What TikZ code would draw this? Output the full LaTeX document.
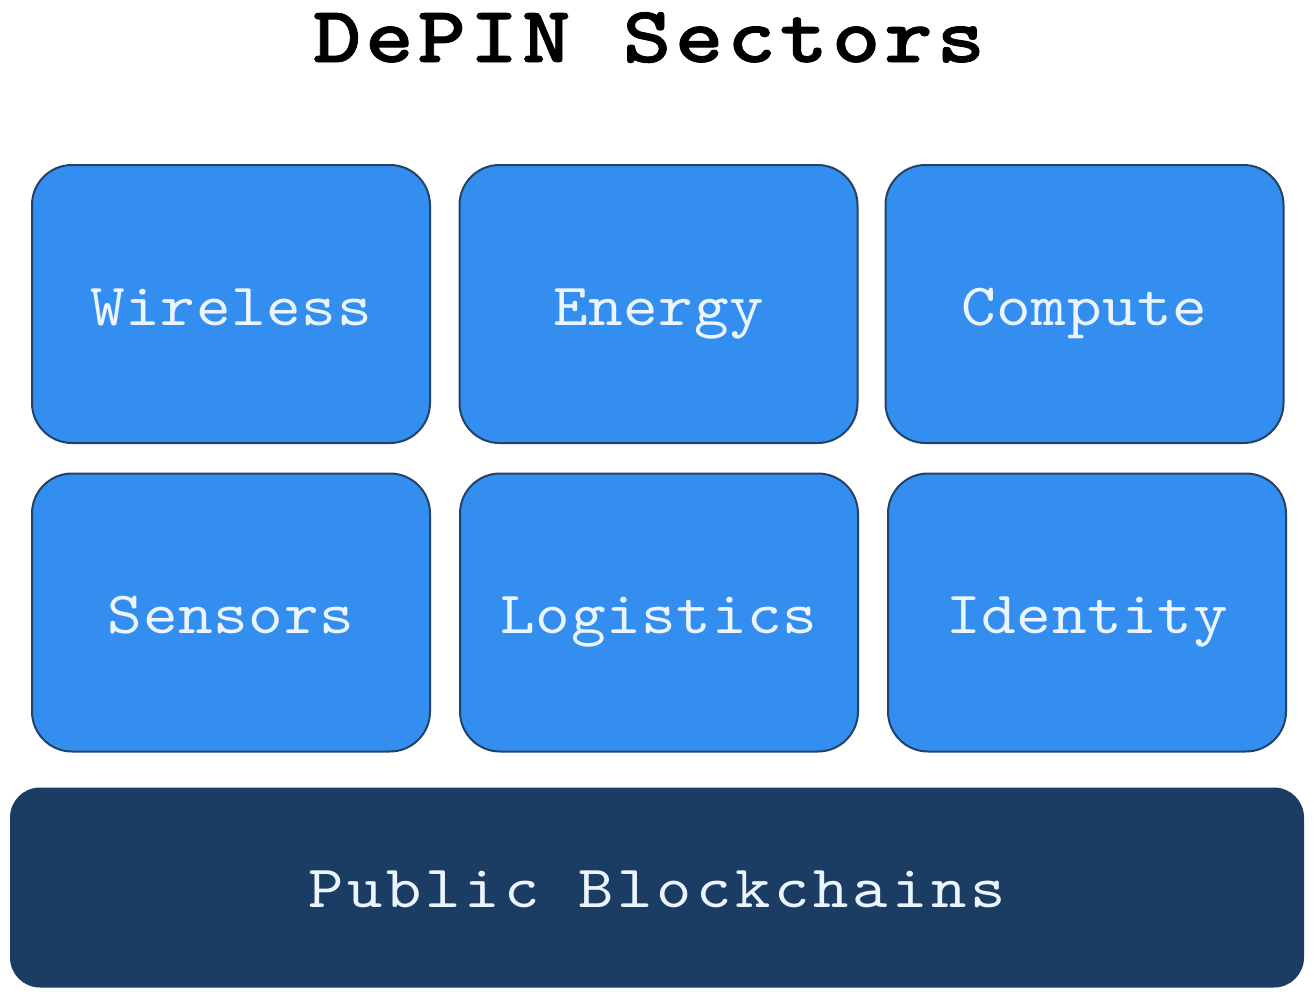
\documentclass[tikz,border=0pt]{standalone}
\usepackage{fontspec}
\newfontfamily\sectorfont{lmmono10-regular.otf}[FakeStretch=1.1,LetterSpace=1]
\newfontfamily\chainfont{lmmono10-regular.otf}[FakeStretch=1.12,LetterSpace=6.5]
\newfontfamily\titlefont{lmmonolt10-bold.otf}[FakeStretch=1.15,LetterSpace=5,FakeBold=1]
\definecolor{sectorblue}{HTML}{338EF0}
\definecolor{sectorline}{HTML}{22426A}
\definecolor{chainblue}{HTML}{1B3C63}
\definecolor{labelwhite}{HTML}{EAF5FF}
\begin{document}
\begin{tikzpicture}[x=0.5pt,y=-0.5pt,
  sector/.style={draw=sectorline,line width=1pt,fill=sectorblue,rounded corners=20pt,
    minimum width=199pt,minimum height=139pt,inner sep=0pt,text height=21pt,text depth=0pt,
    text=labelwhite,font=\sectorfont\fontsize{30}{30}\selectfont},
  chain/.style={fill=chainblue,rounded corners=15pt,
    minimum width=647pt,minimum height=100pt,inner sep=0pt,text height=20pt,text depth=0pt,
    text=labelwhite,font=\chainfont\fontsize{30}{30}\selectfont}]
\useasboundingbox[fill=white] (0,0) rectangle (1314,992);
\node[anchor=base,font=\titlefont\fontsize{40}{40}\selectfont] (title) at (649,62) {DePIN Sectors};
% first row
\node[sector] (wireless) at (231,304) {Wireless};
\node[sector] (energy) at (658.5,304) {Energy};
\node[sector] (compute) at (1084.5,304) {Compute};
% second row
\node[sector] (sensors) at (231,612.5) {Sensors};
\node[sector] (logistics) at (659,612.5) {Logistics};
\node[sector] (identity) at (1087,612.5) {Identity};
% base layer
\node[chain] (blockchains) at (657,887.5) {Public Blockchains};
\end{tikzpicture}
\end{document}
